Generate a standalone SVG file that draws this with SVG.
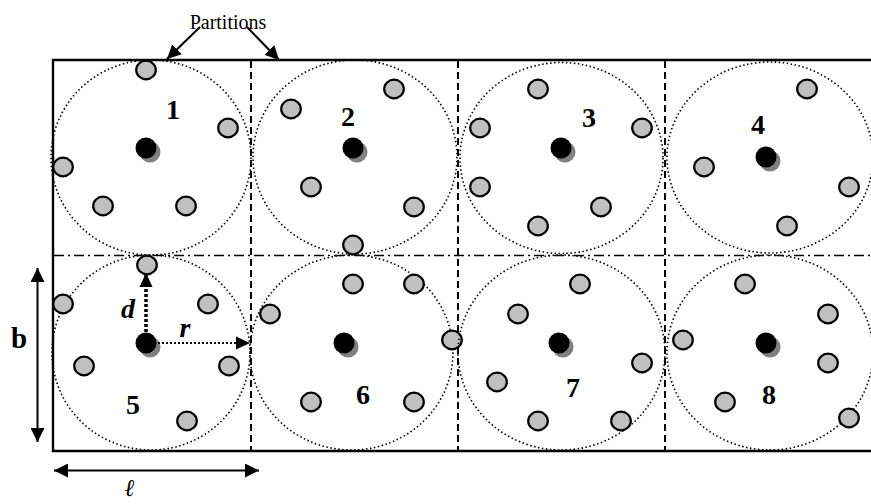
<svg xmlns="http://www.w3.org/2000/svg" width="871" height="504" viewBox="0 0 871 504">
<style>
.zone{fill:none;stroke:#000;stroke-width:1.6;stroke-dasharray:1.5 2.5}
.s{fill:#c0c0c0;stroke:#000;stroke-width:2.2}
.h{fill:#000}
.sh{fill:#808080}
.num{font-family:"Liberation Serif","Times New Roman",serif;font-weight:bold;font-size:28px;text-anchor:middle}
.lbl{font-family:"Liberation Serif","Times New Roman",serif;font-weight:bold;font-style:italic;text-anchor:middle}
.vd{stroke:#000;stroke-width:2;stroke-dasharray:7 4;fill:none}
.hd{stroke:#000;stroke-width:1.6;stroke-dasharray:10 4 2 4;fill:none}
.ar{stroke:#000;stroke-width:2;fill:none}
</style>
<defs>
<marker id="ah" viewBox="0 0 14 14" markerWidth="14" markerHeight="14" refX="14" refY="7" orient="auto-start-reverse" markerUnits="userSpaceOnUse">
<path d="M0,0 L14,7 L0,14 z" fill="#000"/>
</marker>
<marker id="ahs" viewBox="0 0 14 14" markerWidth="14" markerHeight="14" refX="14" refY="7" orient="auto" markerUnits="userSpaceOnUse">
<path d="M0,0.5 L14,7 L0,13.5 z" fill="#000"/>
</marker>
</defs>
<rect width="871" height="504" fill="#fff"/>
<g id="area">
<path d="M873,60 H53 V451 H873" fill="none" stroke="#000" stroke-width="2.4"/>
<line class="vd" x1="251" y1="61" x2="251" y2="450"/>
<line class="vd" x1="458" y1="61" x2="458" y2="450"/>
<line class="vd" x1="665" y1="61" x2="665" y2="450"/>
<line class="hd" x1="54" y1="255.5" x2="871" y2="255.5"/>
</g>
<g id="cell1">
<ellipse class="zone" cx="151" cy="157.5" rx="100" ry="97.5"/>
<ellipse class="s" cx="146" cy="70" rx="9.8" ry="9.3"/>
<ellipse class="s" cx="228" cy="128" rx="9.8" ry="9.3"/>
<ellipse class="s" cx="63" cy="167" rx="9.8" ry="9.3"/>
<ellipse class="s" cx="103" cy="206" rx="9.8" ry="9.3"/>
<ellipse class="s" cx="186" cy="206" rx="9.8" ry="9.3"/>
<circle class="sh" cx="150" cy="152" r="10.5"/><circle class="h" cx="146" cy="148" r="10.5"/>
<text class="num" x="173" y="119">1</text>
</g>
<g id="cell2">
<ellipse class="zone" cx="355" cy="157" rx="102" ry="97"/>
<ellipse class="s" cx="291" cy="109" rx="9.8" ry="9.3"/>
<ellipse class="s" cx="394" cy="89" rx="9.8" ry="9.3"/>
<ellipse class="s" cx="311" cy="187" rx="9.8" ry="9.3"/>
<ellipse class="s" cx="414" cy="207" rx="9.8" ry="9.3"/>
<ellipse class="s" cx="353" cy="245" rx="9.8" ry="9.3"/>
<circle class="sh" cx="357" cy="152" r="10.5"/><circle class="h" cx="353" cy="148" r="10.5"/>
<text class="num" x="348" y="126">2</text>
</g>
<g id="cell3">
<ellipse class="zone" cx="561.5" cy="158" rx="101.5" ry="95.5"/>
<ellipse class="s" cx="480" cy="128" rx="9.8" ry="9.3"/>
<ellipse class="s" cx="480" cy="187" rx="9.8" ry="9.3"/>
<ellipse class="s" cx="538" cy="89" rx="9.8" ry="9.3"/>
<ellipse class="s" cx="538" cy="226" rx="9.8" ry="9.3"/>
<ellipse class="s" cx="642" cy="128" rx="9.8" ry="9.3"/>
<ellipse class="s" cx="601" cy="207" rx="9.8" ry="9.3"/>
<circle class="sh" cx="565" cy="152" r="10.5"/><circle class="h" cx="561" cy="148" r="10.5"/>
<text class="num" x="589" y="127">3</text>
</g>
<g id="cell4">
<ellipse class="zone" cx="770" cy="157.5" rx="103" ry="95.5"/>
<ellipse class="s" cx="807" cy="89" rx="9.8" ry="9.3"/>
<ellipse class="s" cx="704" cy="167" rx="9.8" ry="9.3"/>
<ellipse class="s" cx="849" cy="187" rx="9.8" ry="9.3"/>
<ellipse class="s" cx="787" cy="226" rx="9.8" ry="9.3"/>
<circle class="sh" cx="770" cy="161" r="10.5"/><circle class="h" cx="766" cy="157" r="10.5"/>
<text class="num" x="758" y="134">4</text>
</g>
<g id="cell5">
<ellipse class="zone" cx="151" cy="352.5" rx="99" ry="97.5"/>
<ellipse class="s" cx="147" cy="265" rx="9.8" ry="9.3"/>
<ellipse class="s" cx="63" cy="304" rx="9.8" ry="9.3"/>
<ellipse class="s" cx="208" cy="304" rx="9.8" ry="9.3"/>
<ellipse class="s" cx="84" cy="366" rx="9.8" ry="9.3"/>
<ellipse class="s" cx="229" cy="366" rx="9.8" ry="9.3"/>
<ellipse class="s" cx="187" cy="421" rx="9.8" ry="9.3"/>
<circle class="sh" cx="150" cy="347" r="10.5"/><circle class="h" cx="146" cy="343" r="10.5"/>
<text class="num" x="133" y="414">5</text>
</g>
<g id="cell6">
<ellipse class="zone" cx="351.5" cy="352.5" rx="101.5" ry="97.5"/>
<ellipse class="s" cx="353" cy="284" rx="9.8" ry="9.3"/>
<ellipse class="s" cx="414" cy="284" rx="9.8" ry="9.3"/>
<ellipse class="s" cx="270" cy="314" rx="9.8" ry="9.3"/>
<ellipse class="s" cx="452" cy="340" rx="9.8" ry="9.3"/>
<ellipse class="s" cx="311" cy="402" rx="9.8" ry="9.3"/>
<ellipse class="s" cx="414" cy="402" rx="9.8" ry="9.3"/>
<circle class="sh" cx="348" cy="347" r="10.5"/><circle class="h" cx="344" cy="343" r="10.5"/>
<text class="num" x="363" y="404">6</text>
</g>
<g id="cell7">
<ellipse class="zone" cx="561.5" cy="352.5" rx="103.5" ry="97.5"/>
<ellipse class="s" cx="580" cy="284" rx="9.8" ry="9.3"/>
<ellipse class="s" cx="518" cy="314" rx="9.8" ry="9.3"/>
<ellipse class="s" cx="642" cy="363" rx="9.8" ry="9.3"/>
<ellipse class="s" cx="497" cy="382" rx="9.8" ry="9.3"/>
<ellipse class="s" cx="538" cy="421" rx="9.8" ry="9.3"/>
<ellipse class="s" cx="621" cy="421" rx="9.8" ry="9.3"/>
<circle class="sh" cx="563" cy="347" r="10.5"/><circle class="h" cx="559" cy="343" r="10.5"/>
<text class="num" x="573" y="397">7</text>
</g>
<g id="cell8">
<ellipse class="zone" cx="770" cy="352.5" rx="103" ry="97.5"/>
<ellipse class="s" cx="683" cy="340" rx="9.8" ry="9.3"/>
<ellipse class="s" cx="745" cy="284" rx="9.8" ry="9.3"/>
<ellipse class="s" cx="828" cy="314" rx="9.8" ry="9.3"/>
<ellipse class="s" cx="828" cy="363" rx="9.8" ry="9.3"/>
<ellipse class="s" cx="725" cy="402" rx="9.8" ry="9.3"/>
<ellipse class="s" cx="849" cy="418" rx="9.8" ry="9.3"/>
<circle class="sh" cx="770" cy="347" r="10.5"/><circle class="h" cx="766" cy="343" r="10.5"/>
<text class="num" x="769" y="404">8</text>
</g>
<g id="connectors">
<line class="ar" x1="200" y1="27" x2="167" y2="59" marker-end="url(#ah)"/>
<line class="ar" x1="247" y1="27" x2="279" y2="60" marker-end="url(#ah)"/>
<line x1="146" y1="332" x2="146" y2="273" stroke="#000" stroke-width="3.5" stroke-dasharray="3 2" marker-end="url(#ahs)"/>
<line x1="158" y1="343" x2="250" y2="343" stroke="#000" stroke-width="2" stroke-dasharray="2 2" marker-end="url(#ahs)"/>
<line class="ar" x1="37.5" y1="268" x2="37.5" y2="442" marker-start="url(#ah)" marker-end="url(#ah)"/>
<line class="ar" x1="54" y1="470.5" x2="259" y2="470.5" marker-start="url(#ah)" marker-end="url(#ah)"/>
</g>
<g id="labels">
<text x="228" y="29" font-family="Liberation Serif, Times New Roman, serif" font-size="20" text-anchor="middle">Partitions</text>
<text class="lbl" x="128" y="318" font-size="28">d</text>
<text class="lbl" x="185" y="337" font-size="28">r</text>
<text x="19" y="348" font-family="Liberation Serif, Times New Roman, serif" font-weight="bold" font-size="29" text-anchor="middle">b</text>
<text class="lbl" x="130" y="496" font-size="24">ℓ</text>
</g>
</svg>
